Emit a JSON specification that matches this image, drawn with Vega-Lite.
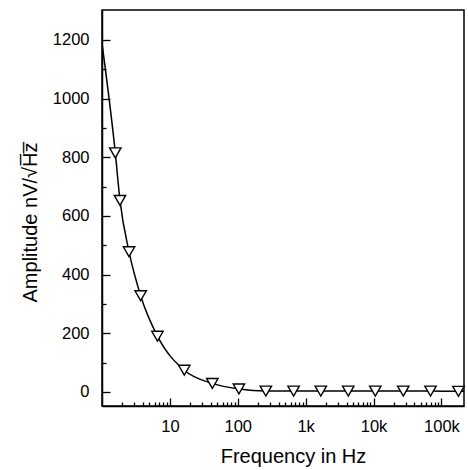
{
  "$schema": "https://vega.github.io/schema/vega-lite/v6.json",
  "width": 362,
  "height": 396,
  "autosize": {"type": "none"},
  "padding": {"left": 102, "top": 10, "right": 4, "bottom": 64},
  "background": "white",
  "config": {
    "view": {"stroke": "black", "strokeWidth": 1.5},
    "font": "Liberation Sans",
    "axis": {"grid": false, "domainColor": "black", "domainWidth": 1.5, "tickColor": "black", "tickWidth": 1.3, "labelColor": "black", "titleColor": "black", "labelFont": "Liberation Sans", "titleFont": "Liberation Sans", "labelFontSize": 16.5, "titleFontSize": 20, "titleFontWeight": "normal"}
  },
  "datasets": {
    "pts": [
      {"f": 1.57, "a": 815}, {"f": 1.84, "a": 653}, {"f": 2.5, "a": 478}, {"f": 3.71, "a": 328},
      {"f": 6.56, "a": 190}, {"f": 16.3, "a": 74}, {"f": 42.2, "a": 29}, {"f": 104, "a": 10},
      {"f": 259, "a": 3}, {"f": 664, "a": 3}, {"f": 1670, "a": 3}, {"f": 4240, "a": 3},
      {"f": 10600, "a": 3}, {"f": 27400, "a": 3}, {"f": 69000, "a": 3}, {"f": 178000, "a": 2}
    ],
    "ln": [
      {"f": 1.0, "a": 1188}, {"f": 1.57, "a": 815}, {"f": 1.84, "a": 653}, {"f": 2.5, "a": 478}, {"f": 3.71, "a": 328},
      {"f": 6.56, "a": 190}, {"f": 16.3, "a": 74}, {"f": 42.2, "a": 29}, {"f": 104, "a": 10},
      {"f": 259, "a": 3}, {"f": 664, "a": 3}, {"f": 1670, "a": 3}, {"f": 4240, "a": 3},
      {"f": 10600, "a": 3}, {"f": 27400, "a": 3}, {"f": 69000, "a": 3}, {"f": 178000, "a": 2}, {"f": 215000, "a": 2}
    ]
  },
  "encoding": {
    "x": {
      "field": "f", "type": "quantitative",
      "scale": {"type": "log", "domain": [1, 215000], "nice": false},
      "axis": {
        "title": "Frequency in Hz",
        "values": [2,3,4,5,6,7,8,9,10,20,30,40,50,60,70,80,90,100,200,300,400,500,600,700,800,900,1000,2000,3000,4000,5000,6000,7000,8000,9000,10000,20000,30000,40000,50000,60000,70000,80000,90000,100000],
        "labelExpr": "indexof([10,100,1000,10000,100000], datum.value) < 0 ? '' : (datum.value >= 1000 ? format(datum.value/1000, 'd') + 'k' : format(datum.value, 'd'))",
        "tickSize": {"condition": {"test": "indexof([10,100,1000,10000,100000], datum.value) >= 0", "value": -8}, "value": -4},
        "labelPadding": 20,
        "labelFlush": false,
        "labelOverlap": false,
        "titleX": 191,
        "titleY": 56,
        "titleBaseline": "alphabetic"
      }
    },
    "y": {
      "field": "a", "type": "quantitative",
      "scale": {"domain": [-48, 1302], "nice": false, "zero": false},
      "axis": {
        "title": "Amplitude nV/√H̅z̅",
        "values": [0,100,200,300,400,500,600,700,800,900,1000,1100,1200],
        "labelExpr": "datum.value % 200 == 0 ? format(datum.value, 'd') : ''",
        "tickSize": {"condition": {"test": "datum.value % 200 == 0", "value": -8}, "value": -4},
        "labelPadding": 21,
        "labelFlush": false,
        "labelOverlap": false,
        "titleX": -66,
        "titleY": 212,
        "titleBaseline": "alphabetic"
      }
    }
  },
  "layer": [
    {
      "data": {"name": "ln"},
      "mark": {"type": "line", "color": "black", "strokeWidth": 1.5, "interpolate": "monotone", "clip": true}
    },
    {
      "data": {"name": "pts"},
      "mark": {"type": "point", "shape": "triangle-down", "size": 130, "filled": true, "fill": "white", "stroke": "black", "strokeWidth": 1.4, "opacity": 1}
    }
  ]
}
